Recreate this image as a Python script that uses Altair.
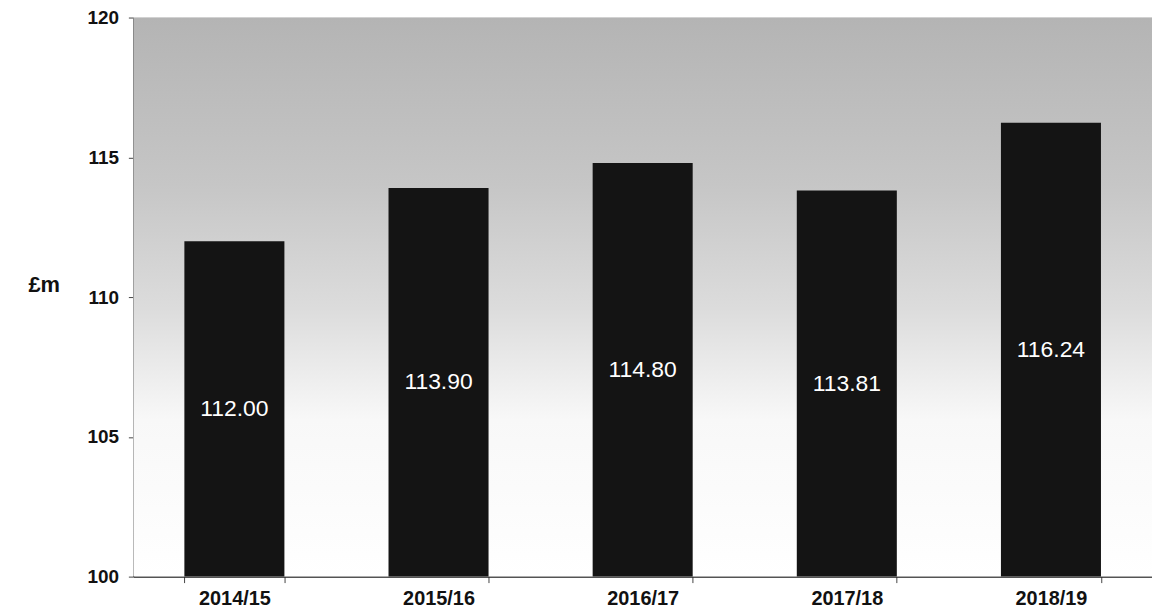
import altair as alt
import pandas as pd

years = ["2014/15", "2015/16", "2016/17", "2017/18", "2018/19"]
values = [112.00, 113.90, 114.80, 113.81, 116.24]
labels = ["112.00", "113.90", "114.80", "113.81", "116.24"]

df = pd.DataFrame({"year": years, "value": values, "label": labels})

W, H = 1024, 562

bg = alt.Chart(pd.DataFrame({"a": [0]})).mark_rect(
    color=alt.Gradient(
        gradient="linear",
        stops=[
            alt.GradientStop(color="#b4b4b4", offset=0),
            alt.GradientStop(color="#c6c6c6", offset=0.3),
            alt.GradientStop(color="#dcdcdc", offset=0.52),
            alt.GradientStop(color="#f8f8f8", offset=0.72),
            alt.GradientStop(color="#ffffff", offset=1),
        ],
        x1=0, x2=0, y1=0, y2=1,
    )
).encode(
    x=alt.value(0), x2=alt.value(W), y=alt.value(0), y2=alt.value(H)
)

base = alt.Chart(df)

x_enc = alt.X(
    "year:N",
    sort=years,
    scale=alt.Scale(paddingInner=0.51, paddingOuter=0.25),
    axis=alt.Axis(
        title=None, labelAngle=0, labelFont="Liberation Sans",
        labelFontWeight="bold", labelFontSize=20, labelColor="#111",
        labelPadding=6, tickBand="extent", tickSize=6, tickColor="#444",
        domainColor="#222", domainWidth=1.5,
    ),
)

bars = base.mark_bar(color="#141414").encode(
    x=x_enc,
    y=alt.Y(
        "value:Q",
        scale=alt.Scale(domain=[100, 120], nice=False),
        axis=alt.Axis(
            values=[100, 105, 110, 115, 120], title="£m", titleAngle=0,
            titleAlign="left", titleBaseline="middle", titleX=-106, titleY=268,
            titleFont="Liberation Sans", titleFontSize=22, titleFontWeight="bold",
            titleColor="#111",
            labelFont="Liberation Sans", labelFontWeight="bold", labelFontSize=19,
            labelColor="#111", labelPadding=10, tickSize=5, tickColor="#444",
            domainColor="#222", domainWidth=1.5, grid=False,
        ),
    ),
    y2=alt.datum(100),
)

text = base.transform_calculate(mid="(datum.value + 100) / 2").mark_text(
    color="white", font="Liberation Sans", fontSize=23, baseline="middle"
).encode(
    x=alt.X("year:N", sort=years),
    y=alt.Y("mid:Q"),
    text="label:N",
)

chart = alt.layer(bg, bars, text).properties(
    width=W, height=H,
    autosize=alt.AutoSizeParams(type="none"),
    padding={"left": 126, "top": 8, "right": 0, "bottom": 38},
).configure_view(stroke="#222", strokeWidth=1.5).configure(background="white")

chart.save("out.html", embed_options={"renderer": "svg", "actions": False})
